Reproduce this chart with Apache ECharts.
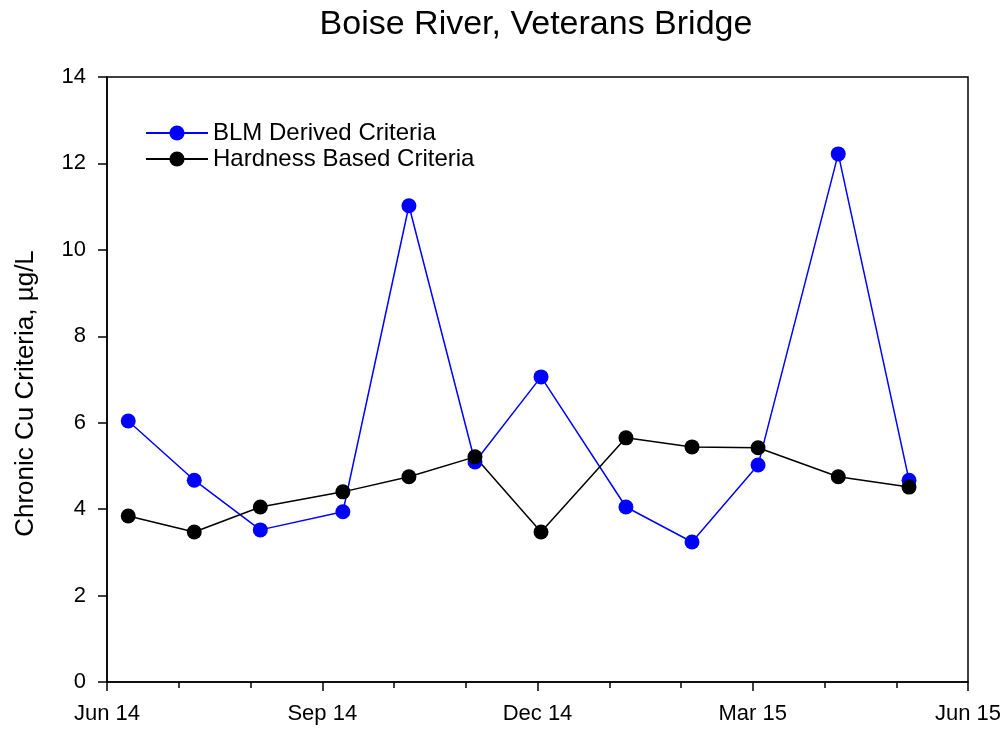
<!DOCTYPE html>
<html>
<head>
<meta charset="utf-8">
<script src="https://cdn.jsdelivr.net/npm/echarts@6/dist/echarts.min.js"></script>
<style>
  html, body { margin: 0; padding: 0; background: #fff; }
  #chart { width: 1002px; height: 730px; }
</style>
</head>
<body>
<div id="chart"></div>
<script>
// sampling dates
var dates = ["2014-06-10", "2014-07-08", "2014-08-05", "2014-09-09", "2014-10-07", "2014-11-04",
             "2014-12-02", "2015-01-07", "2015-02-04", "2015-03-04", "2015-04-07", "2015-05-07"];
var blm = [6.04, 4.67, 3.52, 3.94, 11.02, 5.09, 7.06, 4.05, 3.24, 5.02, 12.22, 4.67];
var hardness = [3.84, 3.47, 4.05, 4.40, 4.75, 5.21, 3.47, 5.65, 5.44, 5.42, 4.75, 4.51];
var xTickLabels = ["Jun 14", "Sep 14", "Dec 14", "Mar 15", "Jun 15"];

var start = Date.UTC(2014, 5, 1);
function dayOf(s) {
  var p = s.split("-");
  return (Date.UTC(+p[0], +p[1] - 1, +p[2]) - start) / 86400000;
}
function pairs(vals) {
  return vals.map(function (v, i) { return [dayOf(dates[i]), v]; });
}

var font = "Arial, 'Liberation Sans', sans-serif";
var chart = echarts.init(document.getElementById("chart"));
var option = {
  backgroundColor: "#fff",
  animation: false,
  title: {
    text: "Boise River, Veterans Bridge",
    left: 531, textAlign: "center", top: 3,
    textStyle: { fontFamily: font, fontSize: 34, fontWeight: "normal", color: "#000" }
  },
  legend: {
    orient: "vertical",
    left: 140, top: 116,
    itemWidth: 62, itemHeight: 19, itemGap: 2,
    textStyle: { fontFamily: font, fontSize: 24, color: "#000" },
    data: ["BLM Derived Criteria", "Hardness Based Criteria"]
  },
  grid: {
    left: 107, right: 34, top: 77, bottom: 48,
    outerBoundsMode: "none",
    show: true, borderColor: "#000", borderWidth: 1.5
  },
  xAxis: {
    type: "value", min: 0, max: 365, interval: 91.25,
    axisLine: { lineStyle: { color: "#000", width: 1.5 } },
    axisTick: { length: 9, lineStyle: { color: "#000", width: 1.5 } },
    minorTick: { show: true, splitNumber: 3, length: 6, lineStyle: { color: "#000", width: 1.5 } },
    splitLine: { show: false },
    axisLabel: {
      fontFamily: font, fontSize: 22, color: "#000", margin: 21,
      formatter: function (v) { return xTickLabels[Math.round(v / 91.25)]; }
    }
  },
  yAxis: {
    type: "value", min: 0, max: 14, interval: 2,
    name: "Chronic Cu Criteria, µg/L",
    nameLocation: "middle", nameGap: 68,
    nameTextStyle: { fontFamily: font, fontSize: 26, color: "#000", padding: [0, 28, 0, 0] },
    axisLine: { show: true, lineStyle: { color: "#000", width: 1.5 } },
    axisTick: { show: true, length: 9, lineStyle: { color: "#000", width: 1.5 } },
    splitLine: { show: false },
    axisLabel: { fontFamily: font, fontSize: 22, color: "#000", margin: 21 }
  },
  series: [
    {
      name: "BLM Derived Criteria", type: "line",
      data: pairs(blm),
      symbol: "circle", symbolSize: 15,
      itemStyle: { color: "#0000ff" },
      lineStyle: { color: "#0000ff", width: 1.5 }
    },
    {
      name: "Hardness Based Criteria", type: "line",
      data: pairs(hardness),
      symbol: "circle", symbolSize: 15,
      itemStyle: { color: "#000" },
      lineStyle: { color: "#000", width: 1.5 }
    }
  ]
};
chart.setOption(option);
</script>
</body>
</html>
